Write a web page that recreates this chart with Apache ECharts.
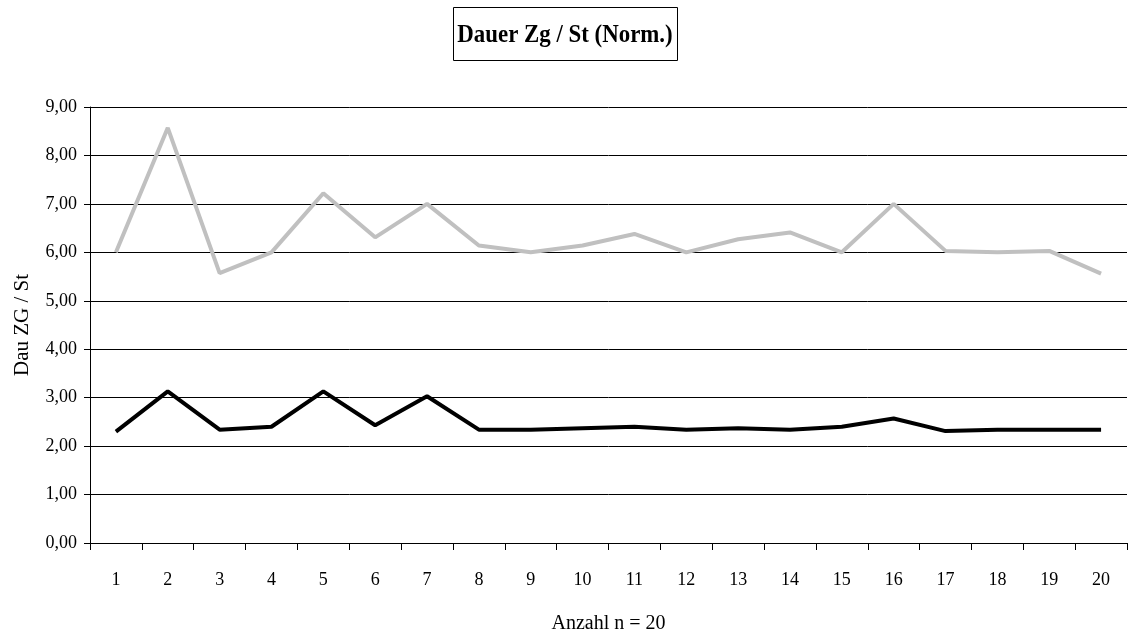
<!DOCTYPE html>
<html>
<head>
<meta charset="utf-8">
<style>
  html, body { margin: 0; padding: 0; background: #fff; }
  #chart { width: 1128px; height: 639px; }
</style>
<script src="https://cdn.jsdelivr.net/npm/echarts@6/dist/echarts.min.js"></script>
</head>
<body>
<div id="chart"></div>
<script>
// Category labels along the x axis (measurement number)
const categories = ['1','2','3','4','5','6','7','8','9','10','11','12','13','14','15','16','17','18','19','20'];

// Normalised duration, upper (grey) series
const seriesGrey = [6.00, 8.57, 5.57, 6.00, 7.22, 6.31, 7.00, 6.14, 6.00, 6.14, 6.38, 6.00, 6.27, 6.41, 6.00, 7.00, 6.03, 6.00, 6.03, 5.56];

// Normalised duration, lower (black) series
const seriesBlack = [2.30, 3.13, 2.34, 2.40, 3.13, 2.43, 3.03, 2.34, 2.34, 2.37, 2.40, 2.34, 2.37, 2.34, 2.40, 2.57, 2.31, 2.34, 2.34, 2.34];

const titleText = 'Dauer Zg / St (Norm.)';
const yAxisName = 'Dau ZG / St';
const xAxisName = 'Anzahl n = 20';

const serif = '"Liberation Serif", "Times New Roman", serif';

const chart = echarts.init(document.getElementById('chart'), null, { renderer: 'canvas' });

chart.setOption({
  backgroundColor: '#ffffff',
  animation: false,
  // Boxed title, text slightly condensed horizontally
  graphic: [
    {
      type: 'rect',
      shape: { x: 453.5, y: 7.5, width: 224, height: 53 },
      style: { fill: '#fff', stroke: '#000', lineWidth: 1 },
      z: 10
    },
    {
      type: 'text',
      x: 565,
      y: 35,
      scaleX: 0.88,
      style: {
        text: titleText,
        x: 0,
        y: 0,
        align: 'center',
        verticalAlign: 'middle',
        font: 'bold 26px ' + serif,
        fill: '#000'
      },
      z: 11
    }
  ],
  grid: {
    left: 90,
    right: 1,
    top: 107,
    bottom: 89,
    containLabel: false
  },
  xAxis: {
    type: 'category',
    data: categories,
    boundaryGap: true,
    name: xAxisName,
    nameLocation: 'middle',
    nameGap: 71,
    nameTextStyle: { fontFamily: serif, fontSize: 20, color: '#000' },
    axisLine: { lineStyle: { color: '#000', width: 1 } },
    axisTick: { show: true, length: 7, alignWithLabel: false, lineStyle: { color: '#000' } },
    axisLabel: { fontFamily: serif, fontSize: 18, color: '#000', margin: 28 },
    splitLine: { show: false }
  },
  yAxis: {
    type: 'value',
    min: 0,
    max: 9,
    interval: 1,
    name: yAxisName,
    nameLocation: 'middle',
    nameGap: 57,
    nameTextStyle: { fontFamily: serif, fontSize: 21, color: '#000' },
    axisLine: { show: true, lineStyle: { color: '#000', width: 1 } },
    axisTick: { show: true, length: 6, inside: false, lineStyle: { color: '#000' } },
    axisLabel: {
      fontFamily: serif,
      fontSize: 18,
      color: '#000',
      margin: 13,
      formatter: v => v.toFixed(2).replace('.', ',')
    },
    splitLine: { show: true, lineStyle: { color: '#000', width: 1 } }
  },
  series: [
    {
      name: 'grau',
      type: 'line',
      data: seriesGrey,
      showSymbol: false,
      lineStyle: { color: '#c0c0c0', width: 4 },
      itemStyle: { color: '#c0c0c0' }
    },
    {
      name: 'schwarz',
      type: 'line',
      data: seriesBlack,
      showSymbol: false,
      lineStyle: { color: '#000000', width: 4 },
      itemStyle: { color: '#000000' }
    }
  ]
});
</script>
</body>
</html>
